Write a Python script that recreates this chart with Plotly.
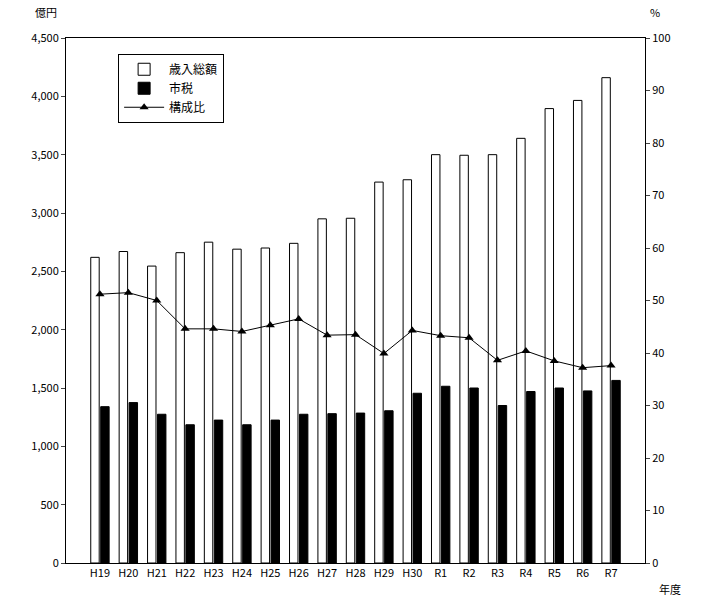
import plotly.graph_objects as go

years = ["H19","H20","H21","H22","H23","H24","H25","H26","H27","H28","H29","H30","R1","R2","R3","R4","R5","R6","R7"]
total = [2620,2670,2545,2660,2750,2690,2700,2740,2950,2955,3265,3285,3500,3495,3500,3640,3895,3965,4160]
tax = [1340,1375,1275,1185,1225,1185,1225,1275,1280,1285,1305,1455,1515,1500,1350,1470,1500,1475,1565]
ratio = [51.2,51.5,50.0,44.6,44.6,44.1,45.3,46.5,43.4,43.5,39.9,44.3,43.3,42.9,38.6,40.4,38.5,37.2,37.6]

fig = go.Figure()
fig.add_bar(x=years, y=total, name="歳入総額", marker=dict(color="white", line=dict(color="black", width=1)))
fig.add_bar(x=years, y=tax, name="市税", marker=dict(color="black", line=dict(color="black", width=1)))
fig.add_scatter(x=years, y=ratio, name="構成比", yaxis="y2", mode="lines+markers",
                line=dict(color="black", width=1), marker=dict(symbol="triangle-up", size=8, color="black"))

fig.update_layout(
    width=710, height=603, margin=dict(l=58, r=73, t=30, b=48),
    plot_bgcolor="white", paper_bgcolor="white",
    font=dict(family="Noto Sans CJK JP", size=11, color="black"),
    barmode="group", bargap=0.3, bargroupgap=0.15,
    xaxis=dict(showline=True, linecolor="black", mirror=True, ticks="", tickfont=dict(size=11)),
    yaxis=dict(range=[0,4500], dtick=500, tickformat=",", showline=True, linecolor="black",
               ticks="outside", ticklen=4, showgrid=False, zeroline=False),
    yaxis2=dict(range=[0,100], dtick=10, overlaying="y", side="right", showline=True, linecolor="black",
                ticks="outside", ticklen=4, showgrid=False, zeroline=False),
    legend=dict(x=0.09, y=0.97, xanchor="left", yanchor="top", bordercolor="black", borderwidth=1,
                bgcolor="white", traceorder="normal", font=dict(size=12), itemwidth=40),
    showlegend=True,
    annotations=[
        dict(text="億円", xref="paper", yref="paper", x=-0.035, y=1.03, showarrow=False, xanchor="center", yanchor="bottom"),
        dict(text="%", xref="paper", yref="paper", x=1.005, y=1.03, showarrow=False, xanchor="left", yanchor="bottom"),
        dict(text="年度", xref="paper", yref="paper", x=1.02, y=-0.03, showarrow=False, xanchor="left", yanchor="top"),
    ],
)
fig.write_html("out.html")
